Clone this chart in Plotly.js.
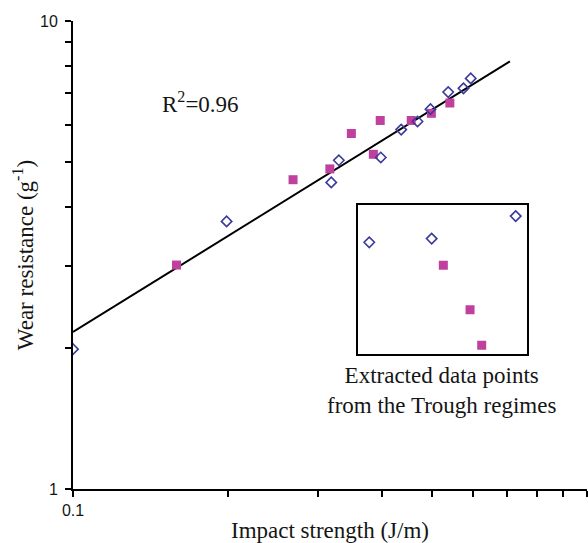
<!DOCTYPE html>
<html>
<head>
<meta charset="utf-8">
<script src="https://cdn.plot.ly/plotly-3.0.1.min.js"></script>
<style>
  html, body { margin: 0; padding: 0; background: #ffffff; }
  #chart { width: 588px; height: 543px; }
</style>
</head>
<body>
<div id="chart"></div>
<script>
// Open diamonds (main data)
const diamondX = [0.100, 0.199, 0.318, 0.329, 0.397, 0.435, 0.468, 0.496, 0.537, 0.575, 0.594];
const diamondY = [1.99, 3.73, 4.52, 5.04, 5.11, 5.86, 6.10, 6.48, 7.05, 7.18, 7.54];
// Filled squares (main data)
const squareX = [0.159, 0.268, 0.316, 0.348, 0.384, 0.396, 0.455, 0.498, 0.541];
const squareY = [3.01, 4.58, 4.83, 5.75, 5.19, 6.13, 6.13, 6.35, 6.68];
// Power-law fit line end points
const fitX = [0.100, 0.708];
const fitY = [2.165, 8.20];
// Inset (extracted points from the trough regimes), inset units 0..1
const insetDiamondX = [0.065, 0.434, 0.931];
const insetDiamondY = [0.752, 0.777, 0.928];
const insetSquareX = [0.503, 0.661, 0.730];
const insetSquareY = [0.597, 0.299, 0.061];
// Tick labels and minor tick positions
const xTickVals = [0.1, 1];
const xTickText = ['0.1', '1'];
const xMinorVals = [0.2, 0.3, 0.4, 0.5, 0.6, 0.7, 0.8, 0.9];
const yTickVals = [1, 10];
const yTickText = ['1', '10'];
const yMinorVals = [2, 3, 4, 5, 6, 7, 8, 9];

const diamondColor = '#3b3a9c';
const squareColor = '#c0409e';
const textColor = '#151515';
const serif = 'Liberation Serif, Times New Roman, serif';
const sans = 'Liberation Sans, Arial, sans-serif';

const traces = [
  {
    x: fitX, y: fitY, type: 'scatter', mode: 'lines',
    line: {color: '#000000', width: 2}, hoverinfo: 'skip', showlegend: false
  },
  {
    x: squareX, y: squareY, type: 'scatter', mode: 'markers',
    marker: {symbol: 'square', size: 9, color: squareColor, line: {width: 0}},
    showlegend: false
  },
  {
    x: diamondX, y: diamondY, type: 'scatter', mode: 'markers',
    marker: {symbol: 'diamond-open', size: 8, color: diamondColor, line: {width: 1.6, color: diamondColor}},
    showlegend: false
  },
  {
    x: insetSquareX, y: insetSquareY, type: 'scatter', mode: 'markers',
    xaxis: 'x2', yaxis: 'y2',
    marker: {symbol: 'square', size: 9, color: squareColor, line: {width: 0}},
    showlegend: false
  },
  {
    x: insetDiamondX, y: insetDiamondY, type: 'scatter', mode: 'markers',
    xaxis: 'x2', yaxis: 'y2',
    marker: {symbol: 'diamond-open', size: 8, color: diamondColor, line: {width: 1.6, color: diamondColor}},
    showlegend: false
  }
];

const layout = {
  width: 588, height: 543,
  margin: {l: 73, r: 1, t: 21, b: 54, pad: 0},
  paper_bgcolor: '#ffffff', plot_bgcolor: '#ffffff',
  showlegend: false,
  xaxis: {
    type: 'log', range: [-1, 0],
    tickmode: 'array', tickvals: xTickVals, ticktext: xTickText,
    ticks: 'outside', ticklen: 6, tickwidth: 2, tickcolor: '#000',
    minor: {tickmode: 'array', tickvals: xMinorVals, ticks: 'outside', ticklen: 6, tickwidth: 2, tickcolor: '#000', showgrid: false},
    ticklabelstandoff: 0,
    showline: true, linewidth: 2, linecolor: '#000',
    showgrid: false, zeroline: false,
    tickfont: {family: sans, size: 16, color: textColor},
    title: {text: 'Impact strength (J/m)', font: {family: serif, size: 23, color: textColor}, standoff: 5},
    automargin: false
  },
  yaxis: {
    type: 'log', range: [0, 1],
    tickmode: 'array', tickvals: yTickVals, ticktext: yTickText,
    ticks: 'outside', ticklen: 6, tickwidth: 2, tickcolor: '#000',
    minor: {tickmode: 'array', tickvals: yMinorVals, ticks: 'outside', ticklen: 6, tickwidth: 2, tickcolor: '#000', showgrid: false},
    ticklabelstandoff: 4,
    showline: true, linewidth: 2, linecolor: '#000',
    showgrid: false, zeroline: false,
    tickfont: {family: sans, size: 16, color: textColor},
    title: {text: 'Wear resistance (g<sup>-1</sup>)', font: {family: serif, size: 23, color: textColor}, standoff: 0},
    automargin: false
  },
  xaxis2: {
    domain: [0.555, 0.884], range: [0, 1], anchor: 'y2',
    showline: true, mirror: true, linewidth: 2, linecolor: '#000',
    showgrid: false, zeroline: false, showticklabels: false, ticks: ''
  },
  yaxis2: {
    domain: [0.288, 0.606], range: [0, 1], anchor: 'x2',
    showline: true, mirror: true, linewidth: 2, linecolor: '#000',
    showgrid: false, zeroline: false, showticklabels: false, ticks: ''
  },
  annotations: [
    {
      text: 'R<sup>2</sup>=0.96', xref: 'paper', yref: 'paper',
      x: (200 - 73) / 514, y: (489 - 103) / 467, xanchor: 'center', yanchor: 'middle',
      showarrow: false, font: {family: serif, size: 23, color: textColor}
    },
    {
      text: 'Extracted data points<br>from the Trough regimes', xref: 'paper', yref: 'paper',
      x: (441 - 73) / 514, y: (489 - 391) / 467, xanchor: 'center', yanchor: 'middle',
      showarrow: false, font: {family: serif, size: 23, color: textColor}
    }
  ]
};

Plotly.newPlot('chart', traces, layout, {displayModeBar: false, staticPlot: true});
</script>
</body>
</html>
